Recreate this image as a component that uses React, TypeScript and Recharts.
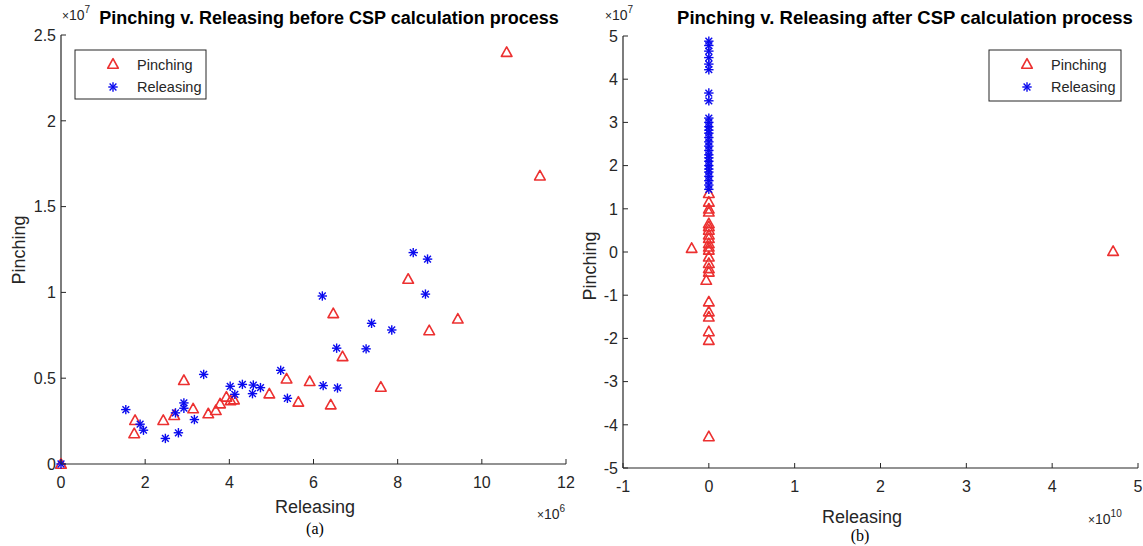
import React from 'react';
import { ScatterChart, Scatter, XAxis, YAxis } from 'recharts';

// ---------- (a) before CSP: x in units of 1e6, y in units of 1e7 ----------
const beforePinchX = [0, 1.74, 1.76, 2.43, 2.69, 2.92, 3.14, 3.50, 3.68, 3.78, 3.93, 4.03, 4.11, 4.95, 5.36, 5.64, 5.91, 6.41, 6.47, 6.69, 7.60, 8.25, 8.75, 9.43, 10.59, 11.38];
const beforePinchY = [0, 0.178, 0.255, 0.255, 0.284, 0.488, 0.323, 0.294, 0.313, 0.352, 0.391, 0.371, 0.375, 0.41, 0.497, 0.362, 0.482, 0.346, 0.878, 0.627, 0.449, 1.078, 0.778, 0.846, 2.40, 1.68];
const beforeReleaseX = [0, 1.54, 1.88, 1.96, 2.48, 2.72, 2.79, 2.92, 2.92, 3.17, 3.39, 4.02, 4.13, 4.31, 4.55, 4.57, 4.74, 5.22, 5.38, 6.21, 6.23, 6.55, 6.57, 7.25, 7.38, 7.86, 8.37, 8.66, 8.71];
const beforeReleaseY = [0, 0.317, 0.232, 0.197, 0.149, 0.298, 0.182, 0.356, 0.325, 0.259, 0.522, 0.453, 0.406, 0.464, 0.41, 0.46, 0.445, 0.546, 0.383, 0.979, 0.457, 0.675, 0.443, 0.671, 0.820, 0.781, 1.232, 0.99, 1.194];

// ---------- (b) after CSP: x in units of 1e10, y in units of 1e7 ----------
const afterPinchX = [0, 0, 0, 0, 0, 0, 0, 0, 0, 0, 0, 0, 0, 0, 0, 0, -0.03, 0, 0, 0, 0, 0, 0, -0.2, 4.71];
const afterPinchY = [1.36, 1.16, 1.0, 0.93, 0.66, 0.59, 0.51, 0.40, 0.32, 0.2, 0.12, 0.05, -0.11, -0.26, -0.38, -0.46, -0.65, -1.15, -1.38, -1.50, -1.84, -2.04, -4.27, 0.09, 0.02];
const afterReleaseX = [0, 0, 0, 0, 0, 0, 0, 0, 0, 0, 0, 0, 0, 0, 0, 0, 0, 0, 0, 0, 0, 0, 0, 0, 0, 0, 0];
const afterReleaseY = [4.88, 4.78, 4.65, 4.5, 4.35, 4.22, 3.68, 3.5, 3.1, 3.0, 2.9, 2.82, 2.75, 2.65, 2.55, 2.45, 2.35, 2.25, 2.18, 2.1, 2.0, 1.92, 1.85, 1.75, 1.65, 1.55, 1.45];

// ---------- ticks ----------
const leftXTicks = [0, 2, 4, 6, 8, 10, 12];
const leftYTicks = [0, 0.5, 1, 1.5, 2, 2.5];
const rightXTicks = [-1, 0, 1, 2, 3, 4, 5];
const rightYTicks = [-5, -4, -3, -2, -1, 0, 1, 2, 3, 4, 5];

const LEFT_XS = 1e6, LEFT_YS = 1e7, RIGHT_XS = 1e10, RIGHT_YS = 1e7;

const zip = (xs: number[], ys: number[], sx: number, sy: number) => xs.map((x, i) => ({ x: x * sx, y: ys[i] * sy }));

const RED = '#ec3030';
const BLUE = '#0a0aee';
const AX = '#262626';
const FONT = '"Liberation Sans", Arial, Helvetica, sans-serif';
const XTICKM = 12;
const YTICKM = 5;
const TICKFS = 16;

const Tri = (props: any) => {
  const { cx, cy } = props;
  if (cx == null || cy == null) return null;
  const s = 5.3;
  return (
    <polygon
      points={`${cx},${cy - s} ${cx - s},${cy + s * 0.8} ${cx + s},${cy + s * 0.8}`}
      fill="none"
      stroke={RED}
      strokeWidth={1.6}
      strokeLinejoin="round"
    />
  );
};

const Star = (props: any) => {
  const { cx, cy } = props;
  if (cx == null || cy == null) return null;
  const r = 4.7, d = r * 0.72;
  return (
    <g stroke={BLUE} strokeWidth={1.4}>
      <line x1={cx - r} y1={cy} x2={cx + r} y2={cy} />
      <line x1={cx} y1={cy - r} x2={cx} y2={cy + r} />
      <line x1={cx - d} y1={cy - d} x2={cx + d} y2={cy + d} />
      <line x1={cx - d} y1={cy + d} x2={cx + d} y2={cy - d} />
    </g>
  );
};

const makeXTick = (scale: number) => (props: any) => {
  const { x, y, payload } = props;
  const ay = y - XTICKM;
  return (
    <g>
      <line x1={x} x2={x} y1={ay} y2={ay - 5} stroke={AX} strokeWidth={1} />
      <text x={x} y={y} dy="0.72em" textAnchor="middle" fill={AX} fontSize={TICKFS} fontFamily={FONT}>
        {String(Math.round((payload.value / scale) * 100) / 100)}
      </text>
    </g>
  );
};

const makeYTick = (scale: number) => (props: any) => {
  const { x, y, payload } = props;
  const ax = x + YTICKM;
  return (
    <g>
      <line x1={ax} x2={ax + 5} y1={y} y2={y} stroke={AX} strokeWidth={1} />
      <text x={x} y={y} dy="0.36em" textAnchor="end" fill={AX} fontSize={TICKFS} fontFamily={FONT}>
        {String(Math.round((payload.value / scale) * 100) / 100)}
      </text>
    </g>
  );
};

const Exp = ({ x, y, exp }: { x: number; y: number; exp: string }) => (
  <text x={x} y={y} fill={AX} fontFamily={FONT} fontSize={14}>
    <tspan fontSize={12}>×</tspan>
    <tspan>10</tspan>
    <tspan fontSize={10} dy={-7}>{exp}</tspan>
  </text>
);

const LegendBox = ({ x, y, w, h }: { x: number; y: number; w: number; h: number }) => (
  <g>
    <rect x={x} y={y} width={w} height={h} fill="#fff" stroke={AX} strokeWidth={1} />
    <Tri cx={x + 38} cy={y + 14} />
    <text x={x + 62} y={y + 15} dy="0.36em" fontSize={14.5} fill={AX} fontFamily={FONT}>Pinching</text>
    <Star cx={x + 38} cy={y + 37} />
    <text x={x + 62} y={y + 37} dy="0.36em" fontSize={14.5} fill={AX} fontFamily={FONT}>Releasing</text>
  </g>
);

export default function App() {
  const leftPinch = zip(beforePinchX, beforePinchY, LEFT_XS, LEFT_YS);
  const leftRelease = zip(beforeReleaseX, beforeReleaseY, LEFT_XS, LEFT_YS);
  const rightPinch = zip(afterPinchX, afterPinchY, RIGHT_XS, RIGHT_YS);
  const rightRelease = zip(afterReleaseX, afterReleaseY, RIGHT_XS, RIGHT_YS);

  return (
    <div style={{ position: 'absolute', left: 0, top: 0, width: 1143, height: 546, background: '#fff', overflow: 'hidden' }}>
      <div style={{ position: 'absolute', left: 0, top: 0 }}>
        <ScatterChart width={580} height={546} margin={{ top: 35, right: 14, left: 21, bottom: 52 }}>
          <XAxis
            type="number"
            dataKey="x"
            domain={[0, 12e6]}
            ticks={leftXTicks.map((t) => t * LEFT_XS)}
            tick={makeXTick(LEFT_XS)}
            tickSize={0}
            tickMargin={XTICKM}
            height={30}
            axisLine={{ stroke: AX, strokeWidth: 1.2 }}
            interval={0}
          />
          <YAxis
            type="number"
            dataKey="y"
            domain={[0, 2.5e7]}
            ticks={leftYTicks.map((t) => t * LEFT_YS)}
            tick={makeYTick(LEFT_YS)}
            tickSize={0}
            tickMargin={YTICKM}
            width={40}
            axisLine={{ stroke: AX, strokeWidth: 1.2 }}
            interval={0}
          />
          <Scatter name="Pinching" data={leftPinch} shape={Tri} isAnimationActive={false} />
          <Scatter name="Releasing" data={leftRelease} shape={Star} isAnimationActive={false} />
        </ScatterChart>
      </div>
      <div style={{ position: 'absolute', left: 580, top: 0 }}>
        <ScatterChart width={563} height={546} margin={{ top: 36, right: 5, left: 3, bottom: 48 }}>
          <XAxis
            type="number"
            dataKey="x"
            domain={[-1e10, 5e10]}
            ticks={rightXTicks.map((t) => t * RIGHT_XS)}
            tick={makeXTick(RIGHT_XS)}
            tickSize={0}
            tickMargin={XTICKM}
            height={30}
            axisLine={{ stroke: AX, strokeWidth: 1.2 }}
            interval={0}
          />
          <YAxis
            type="number"
            dataKey="y"
            domain={[-5e7, 5e7]}
            ticks={rightYTicks.map((t) => t * RIGHT_YS)}
            tick={makeYTick(RIGHT_YS)}
            tickSize={0}
            tickMargin={YTICKM}
            width={40}
            axisLine={{ stroke: AX, strokeWidth: 1.2 }}
            interval={0}
          />
          <Scatter name="Pinching" data={rightPinch} shape={Tri} isAnimationActive={false} />
          <Scatter name="Releasing" data={rightRelease} shape={Star} isAnimationActive={false} />
        </ScatterChart>
      </div>
      <svg width={1143} height={546} style={{ position: 'absolute', left: 0, top: 0, pointerEvents: 'none' }}>
        {/* left panel */}
        <text x={329} y={24} textAnchor="middle" fontWeight="bold" fontSize={18} fill="#000" fontFamily={FONT}>
          Pinching v. Releasing before CSP calculation process
        </text>
        <Exp x={62} y={20} exp="7" />
        <text transform="translate(19,250) rotate(-90)" textAnchor="middle" dy="0.36em" fontSize={18} fill={AX} fontFamily={FONT}>Pinching</text>
        <text x={315} y={507} textAnchor="middle" dy="0.36em" fontSize={18} fill={AX} fontFamily={FONT}>Releasing</text>
        <Exp x={537} y={519} exp="6" />
        <text x={315} y={528} textAnchor="middle" dy="0.36em" fontSize={16} fill="#000" fontFamily='"Liberation Serif", "Times New Roman", serif'>(a)</text>
        <LegendBox x={75} y={50} w={131} h={49} />

        {/* right panel */}
        <text x={905} y={24} textAnchor="middle" fontWeight="bold" fontSize={18.5} fill="#000" fontFamily={FONT}>
          Pinching v. Releasing after CSP calculation process
        </text>
        <Exp x={605} y={20} exp="7" />
        <text transform="translate(590,266) rotate(-90)" textAnchor="middle" dy="0.36em" fontSize={18} fill={AX} fontFamily={FONT}>Pinching</text>
        <text x={862} y={517} textAnchor="middle" dy="0.36em" fontSize={18} fill={AX} fontFamily={FONT}>Releasing</text>
        <Exp x={1088} y={524} exp="10" />
        <text x={860} y={535} textAnchor="middle" dy="0.36em" fontSize={16} fill="#000" fontFamily='"Liberation Serif", "Times New Roman", serif'>(b)</text>
        <LegendBox x={989} y={50} w={132} h={51} />
      </svg>
    </div>
  );
}
